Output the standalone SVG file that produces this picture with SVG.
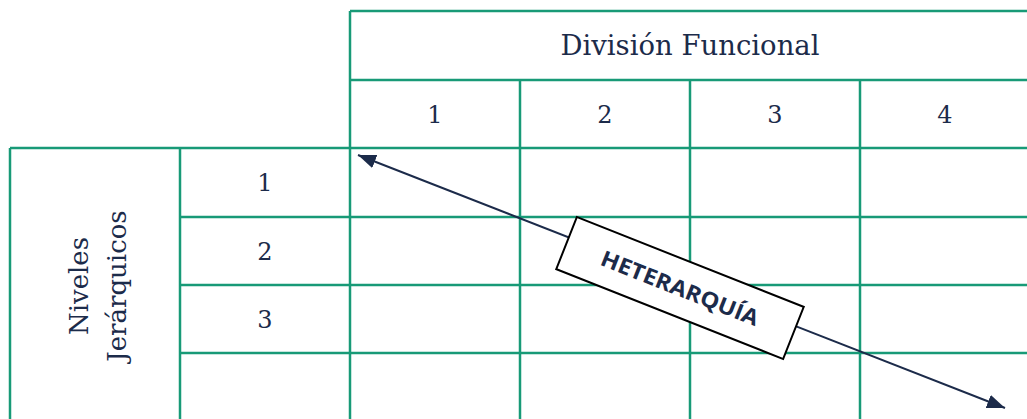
<svg xmlns="http://www.w3.org/2000/svg" width="1027" height="419" viewBox="0 0 1027 419">
<style>
.g{stroke:#189a77;stroke-width:2.5;fill:none}
.t{font-family:"DejaVu Serif","Liberation Serif",serif;fill:#1c2b4a}
.n{font-size:24px;text-anchor:middle}
</style>
<defs>
<marker id="ah" markerUnits="userSpaceOnUse" markerWidth="20" markerHeight="16" refX="18" refY="7" orient="auto-start-reverse">
<path d="M0,0 L18,7 L0,14 Z" fill="#1c2b4a"/>
</marker>
</defs>
<rect width="1027" height="419" fill="#ffffff"/>
<g id="grid" class="g">
<line x1="350" y1="11" x2="1027" y2="11"/>
<line x1="350" y1="80" x2="1027" y2="80"/>
<line x1="10" y1="148" x2="1027" y2="148"/>
<line x1="180" y1="217" x2="1027" y2="217"/>
<line x1="180" y1="285" x2="1027" y2="285"/>
<line x1="180" y1="353" x2="1027" y2="353"/>
<line x1="10" y1="148" x2="10" y2="419"/>
<line x1="180" y1="148" x2="180" y2="419"/>
<line x1="350" y1="11" x2="350" y2="419"/>
<line x1="520" y1="80" x2="520" y2="419"/>
<line x1="690" y1="80" x2="690" y2="419"/>
<line x1="860" y1="80" x2="860" y2="419"/>
</g>
<g id="header">
<text class="t" x="690" y="55" font-size="27" text-anchor="middle" textLength="259" lengthAdjust="spacingAndGlyphs">División Funcional</text>
</g>
<g id="cols" class="t n">
<text x="435" y="123">1</text>
<text x="605" y="123">2</text>
<text x="775" y="123">3</text>
<text x="945" y="123">4</text>
</g>
<g id="rows" class="t n">
<text x="265" y="191">1</text>
<text x="265" y="260">2</text>
<text x="265" y="328">3</text>
</g>
<g id="niveles" transform="translate(88,286) rotate(-90)">
<text class="t" x="0" y="0" font-size="26" text-anchor="middle">Niveles</text>
<text class="t" x="0" y="38" font-size="26" text-anchor="middle">Jerárquicos</text>
</g>
<g id="connectors">
<line x1="358" y1="155" x2="1005" y2="408" stroke="#1c2b4a" stroke-width="2" marker-start="url(#ah)" marker-end="url(#ah)"/>
</g>
<g id="heterarquia" transform="translate(680,288) rotate(21.6)">
<rect x="-122" y="-28" width="244" height="56" fill="#ffffff" stroke="#000000" stroke-width="2"/>
<text x="0" y="8" font-family="'Open Sans','Noto Sans','Liberation Sans',sans-serif" font-weight="bold" font-size="22" fill="#1c2b4a" text-anchor="middle" textLength="168" lengthAdjust="spacingAndGlyphs">HETERARQUÍA</text>
</g>
</svg>
